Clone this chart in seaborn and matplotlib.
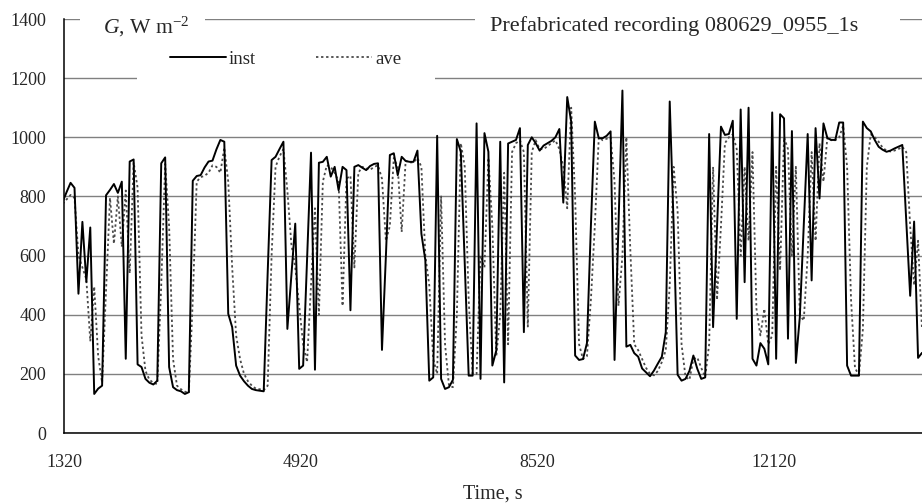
import matplotlib
matplotlib.use("Agg")
import numpy as np
import pandas as pd
import seaborn as sns
import matplotlib.pyplot as plt
from matplotlib.lines import Line2D
from matplotlib.patches import Rectangle

# ---------------- data ----------------
start_time = 1300      # s, first sample
step = 60              # s between samples

inst = [782, 815, 846, 829, 471, 714, 511, 695, 132, 150,
        160, 804, 822, 842, 812, 850, 251, 918, 925, 232,
        223, 183, 170, 164, 177, 912, 932, 223, 155, 145,
        141, 132, 138, 853, 869, 872, 898, 918, 921, 959,
        991, 985, 403, 358, 228, 194, 175, 160, 149, 145,
        143, 141, 540, 923, 934, 960, 985, 352, 530, 708,
        217, 228, 590, 948, 214, 914, 917, 934, 867, 900,
        821, 900, 889, 415, 900, 906, 897, 889, 903, 910,
        912, 281, 600, 940, 946, 872, 934, 920, 917, 917,
        955, 674, 584, 177, 188, 1005, 183, 149, 155, 180,
        994, 951, 570, 194, 194, 1047, 183, 1014, 951, 228,
        279, 985, 171, 979, 985, 991, 1031, 341, 974, 1000,
        980, 955, 972, 980, 988, 1000, 1028, 779, 1136, 1053,
        262, 247, 250, 304, 700, 1053, 997, 997, 1005, 1020,
        247, 700, 1158, 292, 298, 270, 258, 218, 205, 192,
        211, 235, 258, 341, 1121, 700, 197, 177, 183, 210,
        262, 217, 183, 188, 1011, 358, 700, 1036, 1008, 1011,
        1056, 386, 1094, 510, 1100, 251, 228, 304, 285, 232,
        1084, 251, 1078, 1064, 319, 1021, 237, 392, 700, 1011,
        516, 1031, 793, 1047, 997, 991, 991, 1050, 1050, 228,
        194, 194, 194, 1053, 1031, 1020, 991, 968, 958, 951,
        955, 962, 968, 974, 720, 464, 715, 254, 271]

ave = [775, 790, 805, 795, 600, 560, 520, 310, 495, 260,
       170, 480, 795, 640, 800, 630, 820, 540, 915, 830,
       330, 210, 180, 170, 165, 500, 910, 700, 250, 160,
       148, 140, 135, 450, 850, 865, 870, 880, 905, 900,
       880, 965, 850, 560, 330, 250, 200, 175, 160, 150,
       148, 145, 160, 600, 900, 935, 960, 820, 640, 560,
       430, 300, 240, 500, 760, 400, 850, 905, 900, 880,
       850, 430, 860, 870, 560, 880, 900, 895, 890, 900,
       905, 860, 650, 700, 930, 900, 680, 920, 915, 915,
       930, 900, 600, 500, 250, 200, 800, 300, 160, 155,
       400, 980, 900, 450, 200, 200, 600, 560, 930, 700,
       260, 400, 880, 300, 950, 980, 990, 950, 360, 950,
       990, 960, 960, 970, 980, 990, 960, 900, 760, 1100,
       800, 300, 250, 260, 450, 700, 1000, 990, 995, 1000,
       850, 430, 600, 1000, 620, 300, 280, 250, 220, 200,
       195, 210, 240, 280, 500, 900, 750, 300, 190, 180,
       250, 255, 220, 190, 300, 900, 450, 700, 980, 1000,
       1010, 960, 600, 900, 650, 950, 420, 330, 420, 300,
       330, 900, 550, 1000, 960, 600, 900, 400, 380, 600,
       950, 650, 980, 850, 1000, 990, 990, 1000, 1040, 900,
       450, 220, 195, 350, 900, 1010, 1000, 985, 965, 955,
       952, 955, 960, 968, 950, 700, 500, 650, 350]

series_names = ["inst", "ave"]
x_tick_labels = [1320, 4920, 8520, 12120]
y_ticks = [0, 200, 400, 600, 800, 1000, 1200, 1400]
title_text = "Prefabricated recording 080629_0955_1s"
y_title = r"$G$, W m$^{-2}$"
x_title = "Time, s"

time = start_time + step * np.arange(len(inst))
df = pd.DataFrame({
    "time": np.concatenate([time, time]),
    "G": np.concatenate([inst, ave]),
    "series": [series_names[0]] * len(inst) + [series_names[1]] * len(ave),
})

# ---------------- style ----------------
sns.set_style("white")
plt.rcParams["font.family"] = ["Liberation Serif", "DejaVu Serif"]
plt.rcParams["mathtext.fontset"] = "custom"
plt.rcParams["mathtext.rm"] = "Liberation Serif"
plt.rcParams["mathtext.it"] = "Liberation Serif:italic"

W, H = 922, 504
fig = plt.figure(figsize=(W / 100, H / 100), dpi=100)
ax = fig.add_axes([64 / W, 1 - 433 / H, 1 - 64 / W, (433 - 19) / H])

ave_color = "#4a4a4a"
sns.lineplot(data=df[df.series == "ave"], x="time", y="G", ax=ax,
             color=ave_color, lw=1.3, dashes=False, legend=False, zorder=2)
ax.lines[-1].set_dashes((1.3, 1.5))
sns.lineplot(data=df[df.series == "inst"], x="time", y="G", ax=ax,
             color="black", lw=1.4, legend=False, zorder=3)

ax.set_xlim(1320, 14380)
ax.set_ylim(0, 1400)
ax.set_yticks(y_ticks)
ax.set_xticks(x_tick_labels)
ax.set_xticks(np.arange(1320, 14380, 600), minor=True)
ax.set_xlabel("")
ax.set_ylabel("")

ax.grid(axis="y", color="#808080", lw=1.0)
ax.grid(axis="x", visible=False)
ax.set_axisbelow(True)
for s in ["top", "right"]:
    ax.spines[s].set_visible(False)
for s in ["left", "bottom"]:
    ax.spines[s].set_color("black")
    ax.spines[s].set_linewidth(1.1)

ax.tick_params(axis="both", which="both", direction="out", length=3.8,
               width=0.9, color="black", labelsize=13)
ax.tick_params(axis="x", which="major", pad=11)
ax.tick_params(axis="y", which="major", pad=9)

# white covers hiding gridlines under titles / legend (Excel-like)
def cover(x0, y0, x1, y1):
    fig.add_artist(Rectangle((x0 / W, 1 - y1 / H), (x1 - x0) / W, (y1 - y0) / H,
                             transform=fig.transFigure, fc="white", ec="none",
                             zorder=1))

cover(80, 8, 205, 34)
cover(475, 8, 900, 34)
cover(137, 42, 435, 92)

fig.text(103 / W, 1 - 27 / H, y_title, ha="left", va="center", fontsize=15.6, zorder=2)
fig.text(674 / W, 1 - 26 / H, title_text, ha="center", va="center", fontsize=16, zorder=2)
fig.text(493 / W, 1 - 494 / H, x_title, ha="center", va="center", fontsize=14.5)

handles = [Line2D([], [], color="black", lw=1.4),
           Line2D([], [], color=ave_color, lw=1.3, dashes=(1.3, 1.5))]
fig.legend(handles, series_names, loc="center left",
           bbox_to_anchor=(170 / W, 1 - 59 / H), ncol=2, frameon=False,
           fontsize=13.5, handlelength=3.0, handletextpad=0.15,
           columnspacing=3.2, borderpad=0, borderaxespad=0)

fig.savefig("out.png", dpi=100)
